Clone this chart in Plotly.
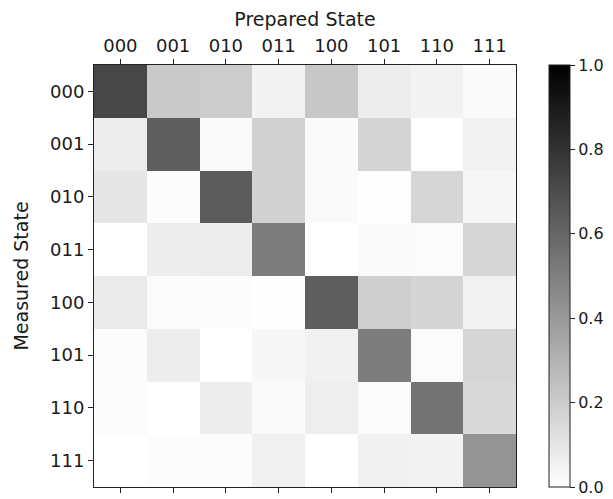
import plotly.graph_objects as go

prepared = ["000", "001", "010", "011", "100", "101", "110", "111"]
measured = ["000", "001", "010", "011", "100", "101", "110", "111"]

# rows = measured state, columns = prepared state
row_000 = [0.72, 0.21, 0.20, 0.05, 0.22, 0.07, 0.05, 0.02]
row_001 = [0.07, 0.63, 0.02, 0.18, 0.02, 0.17, 0.00, 0.05]
row_010 = [0.10, 0.01, 0.64, 0.18, 0.02, 0.005, 0.16, 0.03]
row_011 = [0.00, 0.07, 0.07, 0.51, 0.00, 0.02, 0.015, 0.16]
row_100 = [0.08, 0.015, 0.01, 0.005, 0.63, 0.19, 0.17, 0.05]
row_101 = [0.01, 0.07, 0.00, 0.03, 0.055, 0.51, 0.015, 0.16]
row_110 = [0.01, 0.00, 0.07, 0.02, 0.065, 0.015, 0.55, 0.15]
row_111 = [0.00, 0.01, 0.01, 0.055, 0.00, 0.055, 0.05, 0.42]

z = [row_000, row_001, row_010, row_011, row_100, row_101, row_110, row_111]

cbar_ticks = [0.0, 0.2, 0.4, 0.6, 0.8, 1.0]

FONT = "DejaVu Sans"
TXT = "#1a1a1a"

# the page body adds an 8 px offset, so the figure is sized/placed to compensate
fig = go.Figure(
    go.Heatmap(
        z=z,
        x=prepared,
        y=measured,
        zmin=0,
        zmax=1,
        colorscale=[[0, "#ffffff"], [1, "#000000"]],
        colorbar=dict(
            x=(549 - 94) / 422,
            xanchor="left",
            xpad=0,
            y=0.5,
            yanchor="middle",
            len=1,
            lenmode="fraction",
            ypad=0,
            thickness=21,
            thicknessmode="pixels",
            outlinewidth=1,
            outlinecolor="#222",
            tickvals=cbar_ticks,
            tickformat=".1f",
            ticks="outside",
            ticklen=5,
            tickwidth=1,
            tickcolor="#222",
            tickfont=dict(family=FONT, size=16, color=TXT),
        ),
    )
)

fig.update_layout(
    width=605,
    height=491,
    margin=dict(l=86, r=97, t=57, b=12, autoexpand=False),
    paper_bgcolor="white",
    plot_bgcolor="white",
    font=dict(family=FONT, size=18, color=TXT),
    xaxis=dict(
        side="top",
        title=dict(text="Prepared State", font=dict(family=FONT, size=19, color=TXT), standoff=4),
        showgrid=False,
        zeroline=False,
        showline=True,
        linecolor="#222",
        linewidth=1,
        mirror="ticks",
        ticks="outside",
        ticklen=5,
        tickwidth=1,
        tickcolor="#222",
        tickfont=dict(family=FONT, size=18, color=TXT),
        automargin=False,
    ),
    yaxis=dict(
        autorange="reversed",
        title=dict(text="Measured State", font=dict(family=FONT, size=19, color=TXT), standoff=16),
        showgrid=False,
        zeroline=False,
        showline=True,
        linecolor="#222",
        linewidth=1,
        mirror=True,
        ticks="outside",
        ticklen=5,
        tickwidth=1,
        tickcolor="#222",
        tickfont=dict(family=FONT, size=18, color=TXT),
        automargin=False,
    ),
)

fig.write_html("out.html")
